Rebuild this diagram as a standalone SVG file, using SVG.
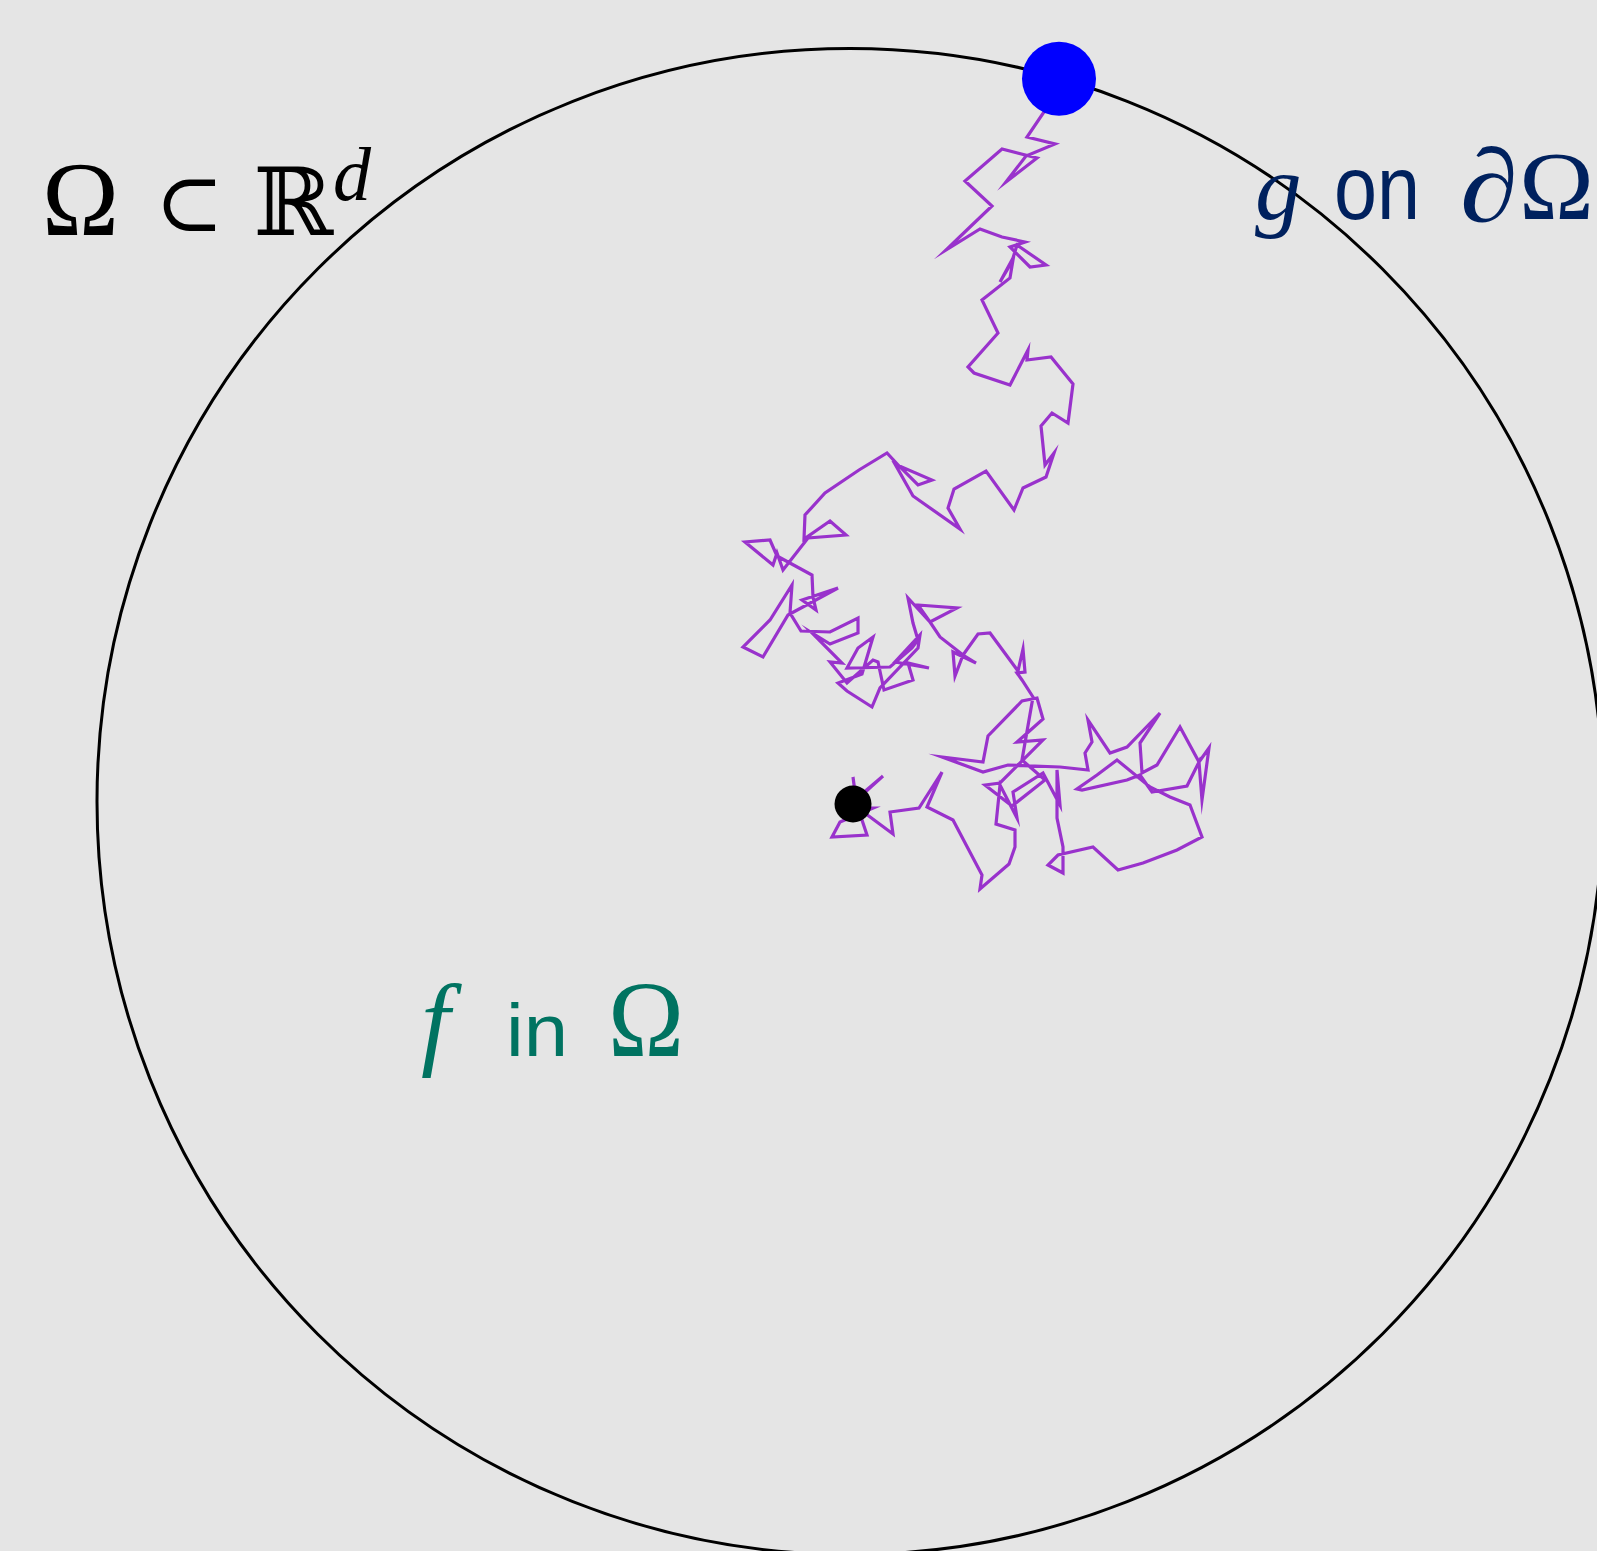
<svg xmlns="http://www.w3.org/2000/svg" width="1597" height="1551" viewBox="0 0 1597 1551">
<style>
.serif{font-family:"Liberation Serif","DejaVu Serif",serif;}
.sans{font-family:"Liberation Sans","DejaVu Sans",sans-serif;}
.it{font-style:italic;}
.walk{fill:none;stroke:#9932CC;stroke-width:3.2;stroke-linejoin:miter;stroke-miterlimit:10;}
</style>
<rect x="0" y="0" width="1597" height="1551" fill="#E5E5E5"/>
<g id="domain">
<circle cx="850" cy="801.5" r="753" fill="none" stroke="#000" stroke-width="3"/>
</g>
<g id="walk">
<polyline class="walk" points="852,804 883,776 856,799 853,777 857,808 873,808 840,822 832,837 867,835 858,808 893,834 890,812 919,808 942,772 927,807 953,820 982,875 980,889 1009,864 1015,847 1015,830 996,824 1000,785 1017,818 1013,792 1043,773 1060,805 1057,770 1057,818 1063,847 1063,873 1048,865 1058,855 1093,847 1118,870 1143,863 1177,850 1202,837 1190,805 1170,797 1150,787 1117,760 1097,775 1077,789 1082,790 1127,780 1140,775 1152,792 1187,786 1199,762 1202,800 1209,748 1199,762 1180,727 1157,765 1142,773 1140,743 1160,713 1127,747 1110,753 1088,720 1092,742 1085,753 1088,770 1060,767 1008,765 983,772 942,757 983,762 988,736 1022,701 1037,698 1043,719 1025,735 1017,742 1043,740 1000,783 985,785 1012,806 1045,780 1022,760 1033,697 1022,680 1017,673 1025,672 1023,649 1018,671 990,633 978,634 963,655 955,676 953,652 976,663 963,655 940,637 930,622 918,605 957,608 930,622 908,598 913,623 918,640 912,648 890,667 847,668 858,648 873,637 862,674 838,683 847,691 872,707 880,688 918,648 920,635 895,662 929,668 908,663 913,680 884,690 878,662 873,660 847,683 830,662 842,663 812,633 830,644 858,633 858,618 830,632 801,631 790,613 792,585 770,620 743,647 763,657 788,615 838,588 802,600 816,610 813,597 812,575 777,556 770,540 745,542 773,565 777,553 783,570 808,538 846,535 830,521 804,539 805,515 825,493 859,470 887,453 900,467 918,485 932,480 895,464 913,496 960,529 948,508 954,489 986,471 1014,510 1023,488 1046,477 1054,453 1045,465 1041,426 1052,413 1068,423 1073,384 1051,357 1027,360 1028,350 1010,385 974,373 968,367 998,333 982,300 1010,278 1013,260 1000,282 1013,258 1017,245 1046,265 1030,267 1010,247 1025,242 1002,237 980,229 946,250 970,227 992,206 965,181 1002,149 1037,158 1006,182 1026,156 1055,144 1027,137 1044,112 1059,79"/>
</g>
<g id="start-point">
<circle cx="853" cy="804" r="18.5" fill="#000"/>
</g>
<g id="exit-point">
<circle cx="1059" cy="78.7" r="37" fill="#0000FF"/>
</g>
<g id="label-domain" fill="#000">
<text class="serif" x="42" y="235" font-size="106" textLength="77" lengthAdjust="spacingAndGlyphs">Ω</text>
<text class="serif" x="155" y="231" font-size="82">⊂</text>
<text class="serif" x="253" y="235" font-size="94" textLength="80" lengthAdjust="spacingAndGlyphs">ℝ</text>
<text class="serif it" x="333" y="200" font-size="76">d</text>
</g>
<g id="label-boundary" fill="#00215E">
<text class="serif it" x="1255" y="219" font-size="93">g</text>
<text class="sans" x="1334" y="219" font-size="90" textLength="86" lengthAdjust="spacingAndGlyphs">on</text>
<text class="serif it" x="1460" y="221" font-size="104" textLength="58" lengthAdjust="spacingAndGlyphs">∂</text>
<text class="serif" x="1519" y="219" font-size="97" textLength="75" lengthAdjust="spacingAndGlyphs">Ω</text>
</g>
<g id="label-interior" fill="#007361">
<text class="serif it" x="421" y="1056" font-size="104">f</text>
<text class="sans" x="506" y="1056" font-size="75" textLength="62" lengthAdjust="spacingAndGlyphs">in</text>
<text class="serif" x="608" y="1056" font-size="107" textLength="76" lengthAdjust="spacingAndGlyphs">Ω</text>
</g>
</svg>
